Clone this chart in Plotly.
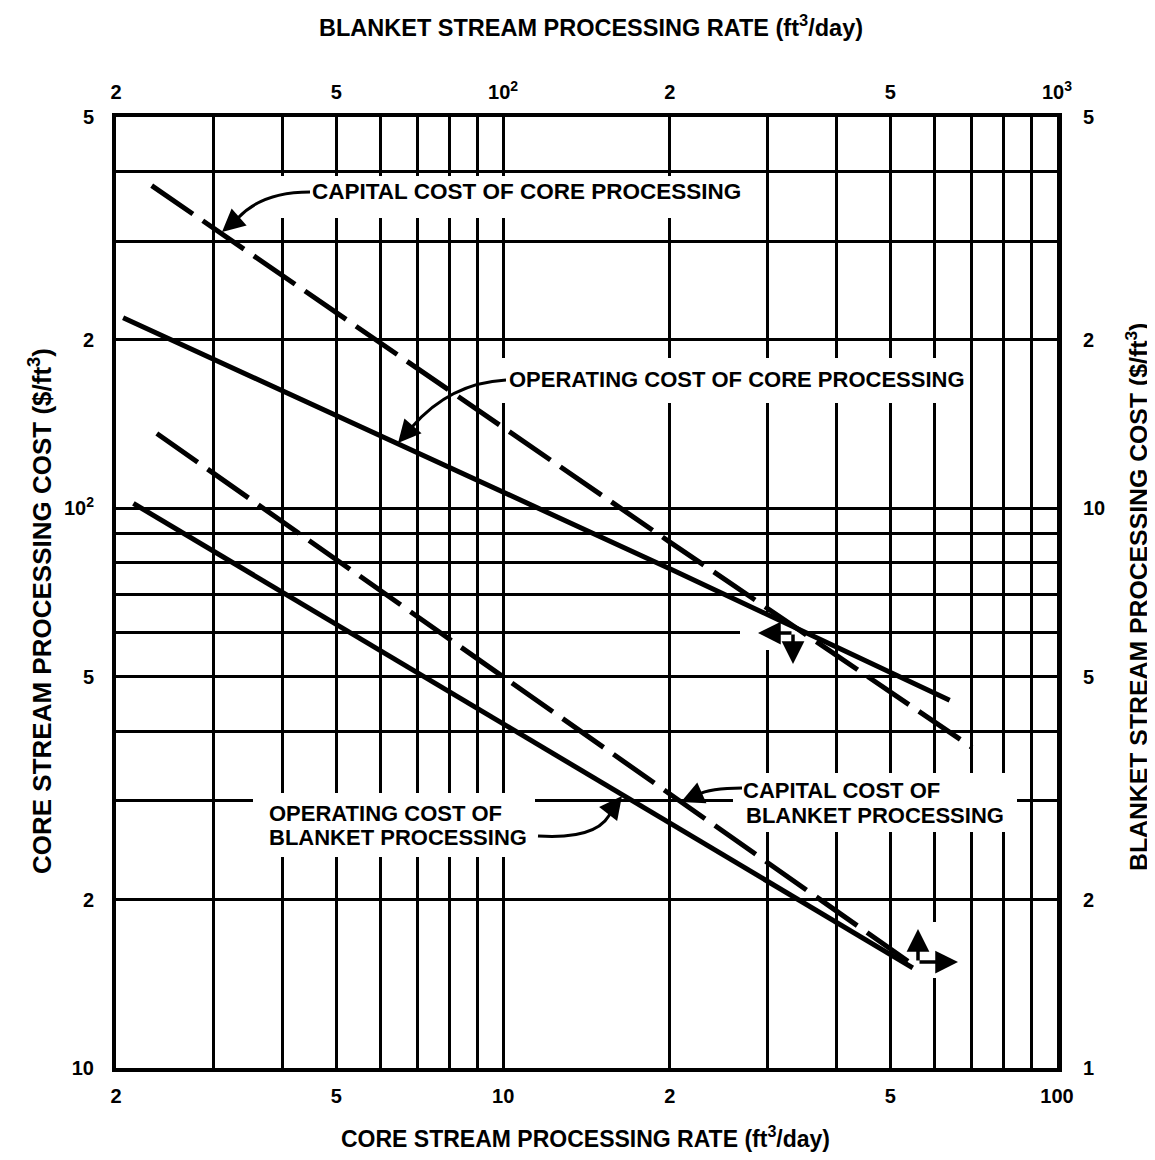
import math
import plotly.graph_objects as go

# ---------------- data ----------------
# Core curves: bottom axis (ft3/day) vs left axis ($/ft3)
core_rate_capital = [2.32, 10.0, 20.0, 70.2]
core_cost_capital = [377, 140, 87, 37.4]
core_rate_operating = [2.06, 6.42, 20.0, 64.0]
core_cost_operating = [219, 131, 78, 45.4]
# Blanket curves: top axis (ft3/day) vs right axis ($/ft3)
blanket_rate_capital = [23.7, 100.0, 549.0]
blanket_cost_capital = [13.6, 5.0, 1.53]
blanket_rate_operating = [21.5, 100.0, 549.0]
blanket_cost_operating = [10.2, 4.12, 1.51]

# ---------------- ticks / grid ----------------
bottom_grid = [2, 3, 4, 5, 6, 7, 8, 9, 10, 20, 30, 40, 50, 60, 70, 80, 90, 100]
bottom_ticks = [2, 5, 10, 20, 50, 100]
bottom_labels = ["2", "5", "10", "2", "5", "100"]
top_ticks = [20, 50, 100, 200, 500, 1000]
top_labels = ["2", "5", "10<sup>2</sup>", "2", "5", "10<sup>3</sup>"]
left_grid = [10, 20, 30, 40, 50, 60, 70, 80, 90, 100, 200, 300, 400, 500]
left_ticks = [10, 20, 50, 100, 200, 500]
left_labels = ["10", "2", "5", "10<sup>2</sup>", "2", "5"]
right_ticks = [1, 2, 5, 10, 20, 50]
right_labels = ["1", "2", "5", "10", "2", "5"]

# ---------------- geometry (reference pixels) ----------------
PAGE_W, PAGE_H = 1155, 1160
OFF = 8                      # page body margin
W, H = PAGE_W - OFF, PAGE_H - 2 * OFF
L, R, T, B = 116, 1057, 117, 1068
FONT = "Liberation Sans, Arial, Helvetica, sans-serif"
XLO, XHI = math.log10(2), 2.0
YLO, YHI = 1.0, math.log10(500)


def fx(p):
    return (p - L) / (R - L)


def fy(p):
    return (B - p) / (B - T)


def dx(p):
    return 10 ** (XLO + fx(p) * (XHI - XLO))


def dy(p):
    return 10 ** (YLO + fy(p) * (YHI - YLO))


def tfont(size):
    return dict(family=FONT, size=size, color="black", weight="bold")


fig = go.Figure()

dash = "50px,12px"
fig.add_trace(go.Scatter(x=core_rate_capital, y=core_cost_capital, mode="lines",
                         line=dict(color="black", width=5, dash=dash),
                         xaxis="x", yaxis="y", showlegend=False, hoverinfo="skip"))
fig.add_trace(go.Scatter(x=core_rate_operating, y=core_cost_operating, mode="lines",
                         line=dict(color="black", width=5),
                         xaxis="x", yaxis="y", showlegend=False, hoverinfo="skip"))
fig.add_trace(go.Scatter(x=blanket_rate_capital, y=blanket_cost_capital, mode="lines",
                         line=dict(color="black", width=5, dash=dash),
                         xaxis="x2", yaxis="y2", showlegend=False, hoverinfo="skip"))
fig.add_trace(go.Scatter(x=blanket_rate_operating, y=blanket_cost_operating, mode="lines",
                         line=dict(color="black", width=5),
                         xaxis="x2", yaxis="y2", showlegend=False, hoverinfo="skip"))

eps = 1e-6
common = dict(type="log", showline=True, linecolor="black", linewidth=4, ticks="",
              zeroline=False, tickmode="array", tickfont=tfont(20))
grid_major = dict(showgrid=True, gridcolor="black", gridwidth=3)


def minor_grid(vals, labeled):
    return dict(tickmode="array", tickvals=[v for v in vals if v not in labeled],
                showgrid=True, gridcolor="black", gridwidth=3, ticks="")


fig.update_layout(
    width=W, height=H,
    margin=dict(l=L - OFF, r=W - (R - OFF), t=T - OFF, b=H - (B - OFF), pad=0),
    paper_bgcolor="white", plot_bgcolor="white",
    xaxis=dict(**common, **grid_major, range=[XLO - eps, XHI + eps],
               tickvals=bottom_ticks, ticktext=bottom_labels,
               minor=minor_grid(bottom_grid, bottom_ticks), ticklabelstandoff=7),
    yaxis=dict(**common, **grid_major, range=[YLO - eps, YHI + eps],
               tickvals=left_ticks, ticktext=left_labels,
               minor=minor_grid(left_grid, left_ticks), ticklabelstandoff=14),
    xaxis2=dict(**common, range=[math.log10(20) - eps, 3 + eps], overlaying="x", side="top",
                anchor="y2", tickvals=top_ticks, ticktext=top_labels, showgrid=False,
                ticklabelstandoff=6),
    yaxis2=dict(**common, range=[0 - eps, math.log10(50) + eps], overlaying="y", side="right",
                anchor="x2", tickvals=right_ticks, ticktext=right_labels, showgrid=False,
                ticklabelstandoff=17),
)
fig.update_layout(yaxis2_linewidth=5)

# white boxes interrupting the grid behind labels (between grid and traces)
boxes = [
    (280, 176, 755, 218),
    (497, 358, 970, 403),
    (253, 793, 535, 857),
    (733, 773, 1017, 832),
    (740, 612, 802, 650),
    (905, 922, 965, 978),
]
shapes = []
for x0, y0, x1, y1 in boxes:
    shapes.append(dict(type="rect", xref="x", yref="y",
                       x0=dx(x0), x1=dx(x1), y0=dy(y1), y1=dy(y0),
                       fillcolor="white", line=dict(width=0), layer="between"))


def qpath(p0, c, p1):
    return "M {:.5f} {:.5f} Q {:.5f} {:.5f} {:.5f} {:.5f}".format(
        fx(p0[0]), fy(p0[1]), fx(c[0]), fy(c[1]), fx(p1[0]), fy(p1[1]))


leaders = [
    ((310, 192), (262, 192), (238, 218), (222, 232)),
    ((506, 380), (450, 383), (412, 427), (398, 443)),
    ((742, 788), (710, 788), (697, 795), (681, 802)),
    ((538, 836), (602, 840), (612, 809), (622, 796)),
]
annotations = []
for p0, c, p1, tip in leaders:
    shapes.append(dict(type="path", xref="paper", yref="paper", path=qpath(p0, c, p1),
                       line=dict(color="black", width=3), layer="above"))
    annotations.append(dict(xref="paper", yref="paper", x=fx(tip[0]), y=fy(tip[1]),
                            ax=p1[0] - tip[0], ay=p1[1] - tip[1], text="", showarrow=True,
                            arrowhead=2, arrowsize=1.3, arrowwidth=3.5, arrowcolor="black",
                            standoff=0, startstandoff=0))

# axis-side indicator arrows
indicators = [
    ((758, 633), (793, 633)),
    ((793, 664), (793, 633)),
    ((918, 929), (918, 962)),
    ((958, 962), (918, 962)),
]
for tip, tail in indicators:
    annotations.append(dict(xref="paper", yref="paper", x=fx(tip[0]), y=fy(tip[1]),
                            ax=tail[0] - tip[0], ay=tail[1] - tip[1], text="", showarrow=True,
                            arrowhead=2, arrowsize=1.3, arrowwidth=3.5, arrowcolor="black",
                            standoff=0))

labels = [
    ("CAPITAL COST OF CORE PROCESSING", 311, 192, 22.5),
    ("OPERATING COST OF CORE PROCESSING", 508, 380, 22),
    ("OPERATING COST OF", 268, 813, 22),
    ("BLANKET PROCESSING", 268, 837, 22),
    ("CAPITAL COST OF", 742, 790, 22),
    ("BLANKET PROCESSING", 745, 815, 22),
]
for txt, x, y, fs in labels:
    annotations.append(dict(xref="paper", yref="paper", x=fx(x), y=fy(y), text=txt,
                            showarrow=False, xanchor="left", yanchor="middle",
                            font=tfont(fs), borderpad=0))

titles = [
    ("BLANKET STREAM PROCESSING RATE (ft<sup>3</sup>/day)", 591, 26, 0, 23.5),
    ("CORE STREAM PROCESSING RATE (ft<sup>3</sup>/day)", 585, 1137, 0, 23),
    ("CORE STREAM PROCESSING COST ($/ft<sup>3</sup>)", 40, 611, -90, 26),
    ("BLANKET STREAM PROCESSING COST ($/ft<sup>3</sup>)", 1136, 597, -90, 24.8),
]
for txt, x, y, ang, fs in titles:
    annotations.append(dict(xref="paper", yref="paper", x=fx(x), y=fy(y), text=txt,
                            showarrow=False, xanchor="center", yanchor="middle",
                            textangle=ang, font=tfont(fs)))

fig.update_layout(shapes=shapes, annotations=annotations)
fig.write_html("out.html")
